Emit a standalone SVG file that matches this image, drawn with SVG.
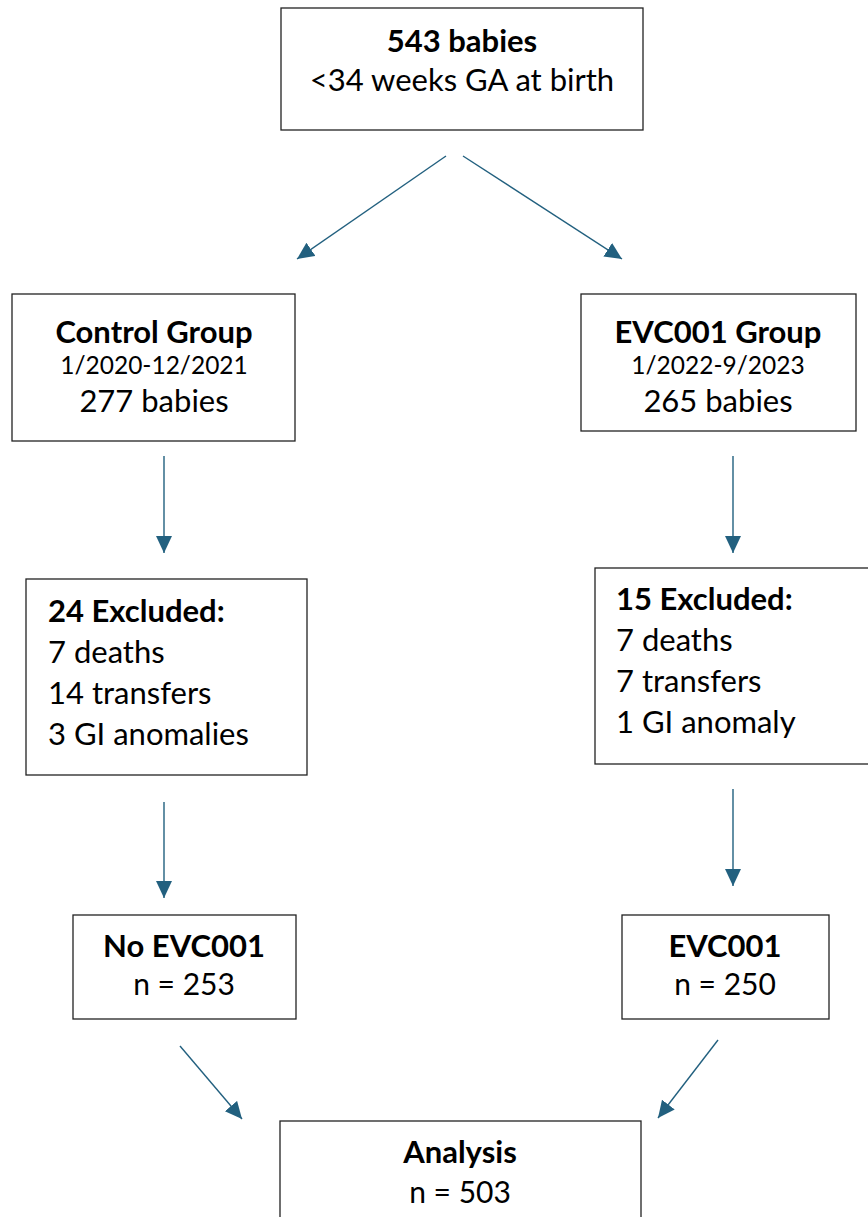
<svg xmlns="http://www.w3.org/2000/svg" width="868" height="1217" viewBox="0 0 868 1217">
<style>
  .box { fill: #fff; stroke: #222; stroke-width: 1.3; }
  text { font-family: Lato, "Open Sans", "Liberation Sans", sans-serif; fill: #000; }
  .t { font-size: 31px; }
  .n { font-size: 30px; }
  .b { font-size: 31px; font-weight: bold; }
  .s { font-size: 24.5px; }
  .c { text-anchor: middle; }
  .conn line { stroke: #22607f; stroke-width: 1.4; marker-end: url(#ah); }
</style>
<defs>
  <marker id="ah" markerUnits="userSpaceOnUse" markerWidth="20" markerHeight="20" refX="17" refY="8" orient="auto">
    <path d="M0,0 L17,8 L0,16 Z" fill="#22607f"/>
  </marker>
</defs>
<rect width="868" height="1217" fill="#fff"/>
<g id="n-all">
  <rect class="box" x="281" y="8" width="362" height="122"/>
  <text class="b c" x="462" y="52">543 babies</text>
  <text class="t c" x="462" y="91">&lt;34 weeks GA at birth</text>
</g>
<g id="n-control">
  <rect class="box" x="12" y="294" width="283" height="147"/>
  <text class="b c" x="154" y="343">Control Group</text>
  <text class="s c" x="154" y="374">1/2020-12/2021</text>
  <text class="t c" x="154" y="412">277 babies</text>
</g>
<g id="n-evc">
  <rect class="box" x="581" y="294" width="275" height="137"/>
  <text class="b c" x="718" y="343">EVC001 Group</text>
  <text class="s c" x="718" y="374">1/2022-9/2023</text>
  <text class="t c" x="718" y="412">265 babies</text>
</g>
<g id="n-excl-control">
  <rect class="box" x="26" y="579" width="281" height="196"/>
  <text class="b" x="48" y="622">24 Excluded:</text>
  <text class="t" x="48" y="663">7 deaths</text>
  <text class="t" x="48" y="704">14 transfers</text>
  <text class="t" x="48" y="745">3 GI anomalies</text>
</g>
<g id="n-excl-evc">
  <rect class="box" x="595" y="568" width="276" height="196"/>
  <text class="b" x="616" y="610">15 Excluded:</text>
  <text class="t" x="616" y="651">7 deaths</text>
  <text class="t" x="616" y="692">7 transfers</text>
  <text class="t" x="616" y="733">1 GI anomaly</text>
</g>
<g id="n-noevc">
  <rect class="box" x="73" y="915" width="223" height="104"/>
  <text class="b c" x="184" y="957">No EVC001</text>
  <text class="n c" x="184" y="995">n = 253</text>
</g>
<g id="n-evc-final">
  <rect class="box" x="622" y="915" width="207" height="104"/>
  <text class="b c" x="725" y="957">EVC001</text>
  <text class="n c" x="725" y="995">n = 250</text>
</g>
<g id="n-analysis">
  <rect class="box" x="280" y="1121" width="361" height="110"/>
  <text class="b c" x="460" y="1163">Analysis</text>
  <text class="n c" x="460" y="1203">n = 503</text>
</g>
<g class="conn" id="connectors">
  <line x1="446" y1="156" x2="297" y2="259"/>
  <line x1="463" y1="156" x2="622" y2="259"/>
  <line x1="164" y1="456" x2="164" y2="553"/>
  <line x1="733" y1="456" x2="733" y2="553"/>
  <line x1="164" y1="802" x2="164" y2="898"/>
  <line x1="733" y1="789" x2="733" y2="886"/>
  <line x1="180" y1="1046" x2="242" y2="1119"/>
  <line x1="718" y1="1040" x2="658" y2="1118"/>
</g>
</svg>
